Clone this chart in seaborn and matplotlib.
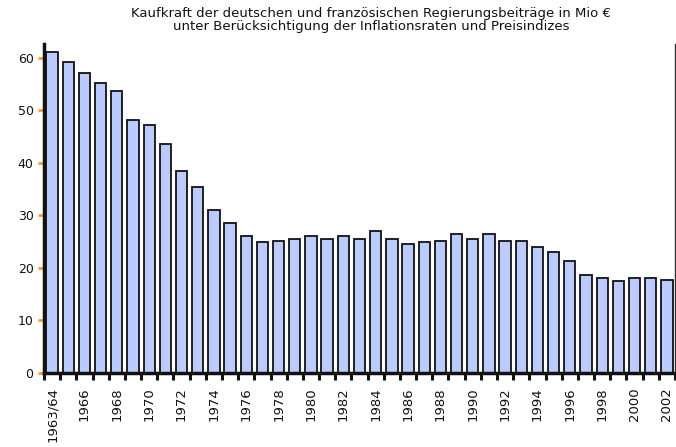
import matplotlib
matplotlib.use("Agg")
import matplotlib.pyplot as plt
import seaborn as sns
import pandas as pd
import numpy as np

years = ["1963/64"] + [str(y) for y in range(1965, 2003)]
values = [61.0, 59.1, 57.0, 55.1, 53.6, 48.1, 47.1, 43.6, 38.4, 35.4,
          31.0, 28.6, 26.1, 24.9, 25.1, 25.5, 26.1, 25.5, 26.1, 25.5,
          27.0, 25.5, 24.6, 24.9, 25.1, 26.5, 25.5, 26.5, 25.1, 25.1,
          23.9, 23.0, 21.4, 18.6, 18.0, 17.5, 18.0, 18.0, 17.7]
yticks = [0, 10, 20, 30, 40, 50, 60]
title = ("Kaufkraft der deutschen und französischen Regierungsbeiträge in Mio €\n"
         "unter Berücksichtigung der Inflationsraten und Preisindizes")

df = pd.DataFrame({"Jahr": years, "Wert": values})

sns.set_theme(style="white")
plt.rcParams['font.family'] = ['DejaVu Sans']

fig = plt.figure(figsize=(6.76, 4.47), dpi=100)
ax = fig.add_axes([44/676, 1-373/447, (675-44)/676, (373-44)/447])

sns.barplot(data=df, x="Jahr", y="Wert", order=years, color="#bccbff",
            saturation=1, width=0.7, edgecolor="#111111", linewidth=1.3, ax=ax)

ax.set_xlim(-0.5, len(years) - 0.5)
ax.set_ylim(0, 62.6)
ax.set_xlabel("")
ax.set_ylabel("")

# labels every other bar
idx = list(range(0, len(years), 2))
ax.set_xticks(idx)
ax.set_xticklabels([years[i] for i in idx], rotation=90, fontsize=9.5, color="#111111")
ax.tick_params(axis="x", which="major", length=0, pad=10)
ax.set_xticks(np.arange(-0.5, len(years), 1.0), minor=True)
ax.tick_params(axis="x", which="minor", bottom=True, length=5, width=2.2, color="#111111", direction="out")

ax.set_yticks(yticks)
ax.set_yticklabels([str(v) for v in yticks], fontsize=9, color="#111111")
ax.tick_params(axis="y", which="major", left=True, length=4.5, width=2, color="#ff9a2e", direction="out", pad=3)

ax.spines["top"].set_visible(False)
ax.spines["left"].set_linewidth(2.5)
ax.spines["left"].set_color("#111111")
ax.spines["bottom"].set_linewidth(2.5)
ax.spines["bottom"].set_color("#111111")
ax.spines["right"].set_linewidth(1.0)
ax.spines["right"].set_color("#333333")

fig.text(371/676, 1-7/447, title, ha="center", va="top", fontsize=9.5,
         color="#111111", linespacing=1.0)

fig.savefig("out.png", dpi=100)
